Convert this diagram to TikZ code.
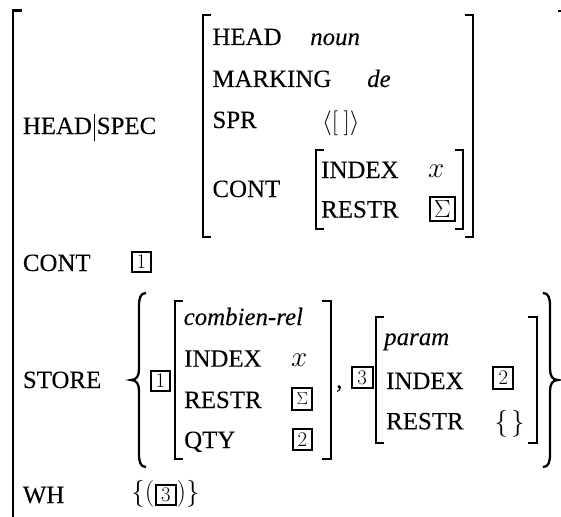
\documentclass[tikz,border=0pt]{standalone}
\usepackage{graphicx}
\usepackage[no-math]{fontspec}
\setmainfont{Liberation Serif}[FakeBold=0.08]
\newcommand\fs{\fontsize{24.88}{29}\selectfont}
\newcommand\mx[1]{\scalebox{1.17}{#1}}
\newcommand\my[1]{\scalebox{1.08}{#1}}
\tikzset{
  lab/.style={anchor=base west, inner sep=0pt, font=\fs},
  tg/.style={draw, line width=2pt, inner sep=0pt, minimum width=19pt, minimum height=20pt, font=\fontsize{20.74}{21}\selectfont},
  sg/.style={draw, line width=2pt, inner sep=0pt, font=\fontsize{24.88}{28}\selectfont},
  brk/.style={line width=1.9pt},
  brc/.style={line width=2.3pt},
}
\begin{document}
\begin{tikzpicture}[x=1pt,y=-1pt]
\useasboundingbox (0,0) rectangle (561,516);
% outer bracket
\draw[line width=2.1pt] (22,10.5) -- (13.3,10.5) -- (13.3,520);
\draw[line width=2.1pt] (558,11) -- (562,11);
% outer labels
\node[lab] (hs) at (22.7,134) {HEAD\hspace{2pt}\rule[-6.5pt]{1.3pt}{27pt}\hspace{1.5pt}SPEC};
\node[lab] (cont) at (22.7,271) {CONT};
\node[tg] (t1a) at (141.5,262) {$1$};
\node[lab] (store) at (22.7,388) {STORE};
\node[lab] (wh) at (22.7,503) {WH};
% HEAD|SPEC value
\draw[brk] (211,15) -- (203,15) -- (203,237) -- (211,237);
\draw[brk] (465,15) -- (473,15) -- (473,237) -- (465,237);
\node[lab] (ihead) at (212.3,45) {HEAD};
\node[lab] (noun) at (310,45) {\textit{noun}};
\node[lab] (mark) at (212.3,87) {MARKING};
\node[lab] (de) at (367,87) {\textit{de}};
\node[lab] (spr) at (212.3,128) {SPR};
\node[lab] (sprv) at (322,129) {$\langle[\mkern4mu]\rangle$};
\node[lab] (icont) at (212.3,197) {CONT};
\draw[brk] (324,150) -- (316,150) -- (316,229) -- (324,229);
\draw[brk] (455,150) -- (463,150) -- (463,229) -- (455,229);
\node[lab] (iidx) at (321,178) {INDEX};
\node[lab] (ix) at (428,177.5) {\mx{$x$}};
\node[lab] (irestr) at (321,217.5) {RESTR};
\node[sg, minimum width=24.5pt, minimum height=24pt] (isig) at (442.5,208.5) {$\Sigma$};
% STORE value
\draw[brc] (146,293) .. controls (140.5,293) and (139,298) .. (139,306) -- (139,369) .. controls (139,376) and (136.5,380) .. (131,380) .. controls (136.5,380) and (139,384) .. (139,391) -- (139,454) .. controls (139,462) and (140.5,467) .. (146,467);
\node[tg] (t1b) at (160.5,380.5) {$1$};
\draw[brk] (183,300.7) -- (175,300.7) -- (175,459) -- (183,459);
\draw[brk] (322,300.7) -- (331,300.7) -- (331,459) -- (322,459);
\node[lab] (crel) at (183.5,325) {\textit{combien-rel}};
\node[lab] (cidx) at (184,366.7) {INDEX};
\node[lab] (cx) at (291,366.5) {\mx{$x$}};
\node[lab] (crestr) at (184,408) {RESTR};
\node[sg, minimum width=20pt, minimum height=22pt, font=\fontsize{17.28}{20}\selectfont] (csig) at (302.3,399) {$\Sigma$};
\node[lab] (cqty) at (184,448) {QTY};
\node[tg, minimum width=19.5pt, minimum height=21pt] (t2a) at (302.3,439.5) {$2$};
\node[lab] (comma) at (336,388) {,};
\node[tg, minimum width=21pt, minimum height=21pt] (t3a) at (362,377.5) {$3$};
\draw[brk] (384,316.7) -- (376,316.7) -- (376,442.7) -- (384,442.7);
\draw[brk] (528,316.7) -- (536.7,316.7) -- (536.7,442.7) -- (528,442.7);
\node[lab] (param) at (384,345) {\textit{param}};
\node[lab] (pidx) at (386,389) {INDEX};
\node[tg, minimum width=20pt, minimum height=22pt] (t2b) at (503.3,378.3) {$2$};
\node[lab] (prestr) at (386,429.3) {RESTR};
\node[lab] (pset) at (494.5,430.5) {\my{$\{\mkern2mu\}$}};
\draw[brc] (543,293) .. controls (548.5,293) and (550,298) .. (550,306) -- (550,369) .. controls (550,376) and (552.5,380) .. (558,380) .. controls (552.5,380) and (550,384) .. (550,391) -- (550,454) .. controls (550,462) and (548.5,467) .. (543,467);
% WH value
\node[lab] (whl) at (131.2,500) {\my{$\bigl\{($}};
\node[tg, minimum width=20pt, minimum height=20pt] (t3b) at (166,495) {$3$};
\node[lab] (whr) at (176.5,500) {\my{$)\bigr\}$}};
\end{tikzpicture}
\end{document}
